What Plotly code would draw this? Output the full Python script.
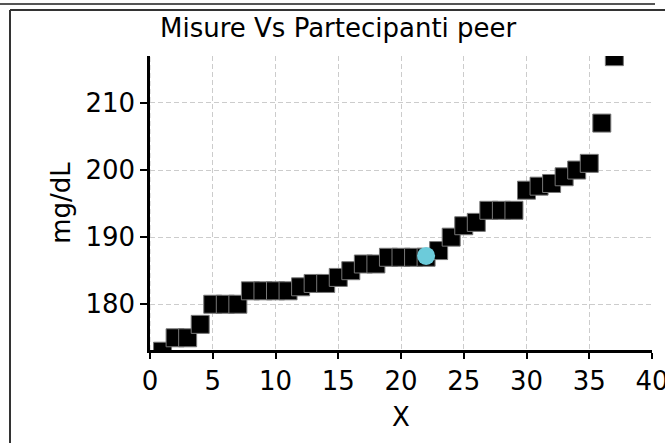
import plotly.graph_objs as go

# participants sorted by measure
participant = list(range(1, 38))
measure = [173, 175, 175, 177, 180, 180, 180, 182, 182, 182,
           182, 182.6, 183.1, 183.1, 184, 185, 186, 186, 187, 187,
           187, 187, 188, 190, 191.7, 192.2, 194, 194, 194, 197,
           197.6, 198, 199, 200, 201, 207, 216.9]

# the highlighted peer
peer_x = [22]
peer_y = [187.2]

x_ticks = [0, 5, 10, 15, 20, 25, 30, 35, 40]
y_ticks = [180, 190, 200, 210]

W, H = 665, 443
L, R, T, B = 150, 13, 56, 93
font = "DejaVu Sans"
grid = "#cccccc"


def px(x, y):
    """pixel position -> paper coords"""
    return (x - L) / (W - L - R), (H - B - y) / (H - T - B)


fig = go.Figure([
    go.Scatter(
        x=participant, y=measure, mode="markers",
        marker=dict(symbol="square", size=18, color="black",
                    line=dict(color="#777777", width=1)),
        showlegend=False,
    ),
    go.Scatter(
        x=peer_x, y=peer_y, mode="markers",
        marker=dict(symbol="circle", size=18, color="#6CCBDA", line=dict(width=0)),
        showlegend=False,
    ),
])

shapes = []
# outer frame lines
x0, y0 = px(0, 4)
x1, _ = px(655, 4)
shapes.append(dict(type="line", xref="paper", yref="paper", x0=x0, x1=x1, y0=y0, y1=y0,
                   line=dict(color="#555555", width=2)))
x0, y0 = px(10, 10)
x1, y1 = px(670, 450)
shapes.append(dict(type="line", xref="paper", yref="paper", x0=x0, x1=x1, y0=y0, y1=y0,
                   line=dict(color="#333333", width=2)))
shapes.append(dict(type="line", xref="paper", yref="paper", x0=x0, x1=x0, y0=y0, y1=y1,
                   line=dict(color="#333333", width=2)))
# grid line at x=0 drawn over the spine
shapes.append(dict(type="line", xref="x", yref="paper", x0=0, x1=0, y0=0, y1=1,
                   line=dict(color=grid, width=1, dash="5px,3px"), layer="above"))

tx, _ = px(160, 0)
fig.update_layout(
    width=W, height=H,
    margin=dict(l=L, r=R, t=T, b=B),
    paper_bgcolor="white", plot_bgcolor="white",
    font=dict(family=font, color="black"),
    title=dict(text="Misure Vs Partecipanti peer", x=tx, xref="paper",
               y=1 - 28 / H, yref="container", xanchor="left", yanchor="middle",
               font=dict(size=26, family=font, color="black")),
    xaxis=dict(range=[0, 40], tickvals=x_ticks, showgrid=True, gridcolor=grid,
               griddash="5px,3px", gridwidth=1, zeroline=False, automargin=False,
               showline=True, linecolor="black", linewidth=2.5,
               ticks="outside", ticklen=6, tickwidth=2, tickcolor="black",
               ticklabeloverflow="allow", tickfont=dict(size=26, family=font),
               title=dict(text="X", font=dict(size=26, family=font), standoff=13)),
    yaxis=dict(range=[173.18, 217.0], tickvals=y_ticks, showgrid=True, gridcolor=grid,
               griddash="5px,3px", gridwidth=1, zeroline=False, automargin=False,
               showline=True, linecolor="black", linewidth=2.5,
               ticks="outside", ticklen=7, tickwidth=2, tickcolor="black",
               tickfont=dict(size=26, family=font),
               title=dict(text="mg/dL", font=dict(size=26, family=font), standoff=8)),
    shapes=shapes,
)

# page body has a default 8px margin; drop it so the figure sits at 0,0
fig.write_html("out.html", config=dict(displayModeBar=False),
               post_script="document.body.style.margin='0';")
